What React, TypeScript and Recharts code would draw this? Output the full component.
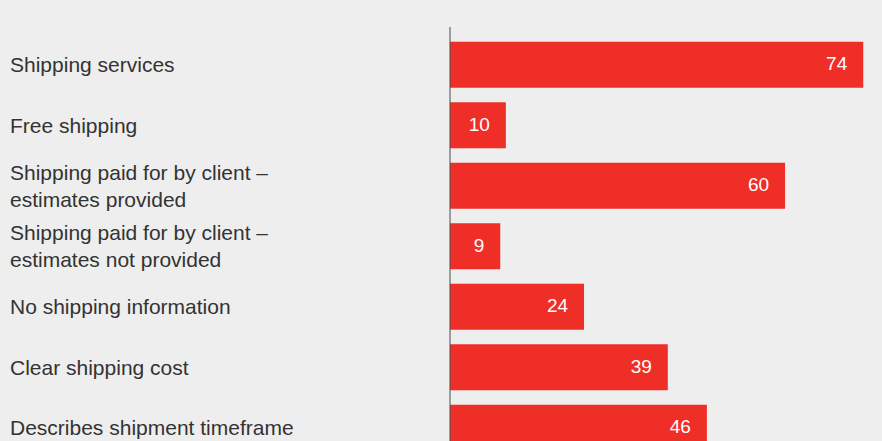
import { BarChart, Bar, XAxis, YAxis, LabelList } from 'recharts';

const categories = [
  'Shipping services',
  'Free shipping',
  'Shipping paid for by client –\nestimates provided',
  'Shipping paid for by client –\nestimates not provided',
  'No shipping information',
  'Clear shipping cost',
  'Describes shipment timeframe',
];

const shares = [74, 10, 60, 9, 24, 39, 46];

const data = categories.map((name, i) => ({ name, value: shares[i] }));

const FONT = '"Liberation Sans", Arial, Helvetica, sans-serif';

const CategoryTick = ({ y, payload }: { y?: number; payload?: { value: string } }) => {
  const lines = (payload?.value ?? '').split('\n');
  const lineHeight = 27;
  const first = (y ?? 0) + 7 - ((lines.length - 1) * lineHeight) / 2;
  return (
    <text x={10} y={first} fill="#333333" fontSize={21} fontFamily={FONT} textAnchor="start">
      {lines.map((line, i) => (
        <tspan key={i} x={10} dy={i === 0 ? 0 : lineHeight}>
          {line}
        </tspan>
      ))}
    </text>
  );
};

const ValueLabel = (props: {
  x?: number;
  y?: number;
  width?: number;
  height?: number;
  value?: number;
}) => {
  const { x = 0, y = 0, width = 0, height = 0, value } = props;
  return (
    <text
      x={x + width - 16}
      y={y + height / 2 - 1}
      fill="#ffffff"
      fontSize={19}
      fontFamily={FONT}
      textAnchor="end"
      dominantBaseline="central"
    >
      {value}
    </text>
  );
};

export default function App() {
  return (
    <div style={{ width: 882, height: 441, overflow: 'hidden', background: '#eeeeee' }}>
      <style>{'body{margin:0;}'}</style>
      <BarChart
        width={882}
        height={459}
        data={data}
        layout="vertical"
        margin={{ top: 27, right: 2, left: 0, bottom: 0 }}
        barSize={46}
      >
        <XAxis type="number" domain={[0, 77]} hide />
        <YAxis
          type="category"
          dataKey="name"
          width={450}
          padding={{ top: 7.75, bottom: 0.75 }}
          axisLine={{ stroke: '#4a4a4a', strokeWidth: 1 }}
          tickLine={false}
          tick={<CategoryTick />}
          interval={0}
        />
        <Bar dataKey="value" fill="#ee2e27" isAnimationActive={false}>
          <LabelList dataKey="value" content={<ValueLabel />} />
        </Bar>
      </BarChart>
    </div>
  );
}
